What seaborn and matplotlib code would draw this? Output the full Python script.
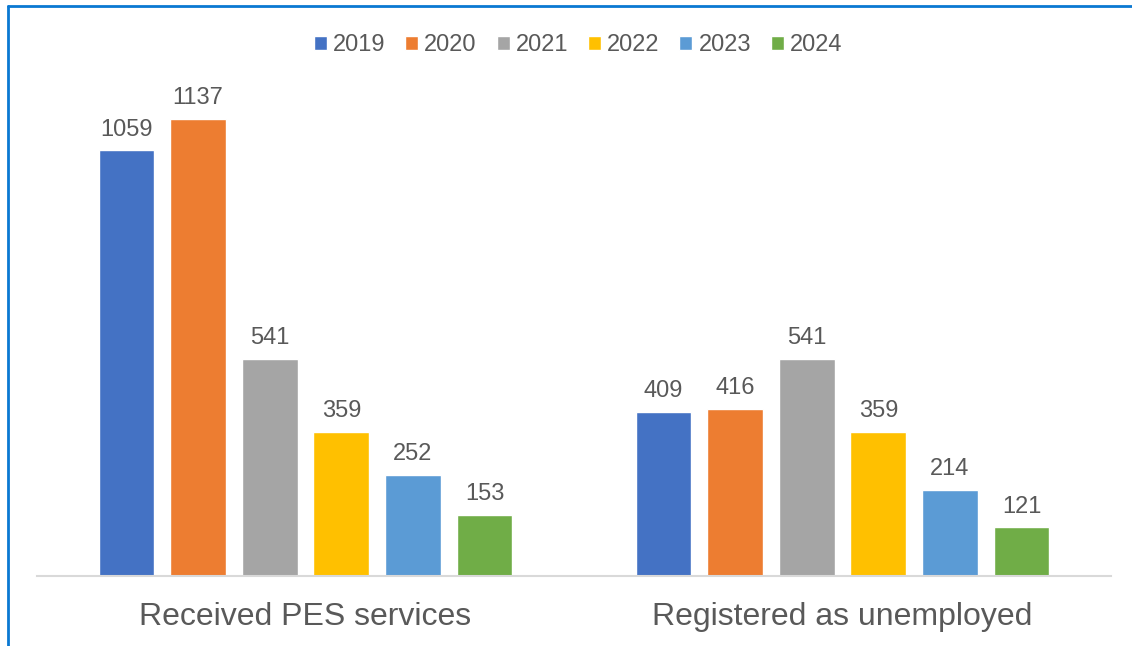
import matplotlib
matplotlib.use("Agg")
import matplotlib.pyplot as plt
import seaborn as sns
import pandas as pd
from matplotlib.lines import Line2D

categories = ["Received PES services", "Registered as unemployed"]
years = ["2019", "2020", "2021", "2022", "2023", "2024"]
received = [1059, 1137, 541, 359, 252, 153]
registered = [409, 416, 541, 359, 214, 121]
colors = ["#4472C4", "#ED7D31", "#A5A5A5", "#FFC000", "#5B9BD5", "#70AD47"]

rows = []
for cat, vals in zip(categories, [received, registered]):
    for yr, v in zip(years, vals):
        rows.append({"category": cat, "year": yr, "value": v})
df = pd.DataFrame(rows)

sns.set_theme(style="white")
plt.rcParams["font.family"] = ["Liberation Sans", "DejaVu Sans"]
text_color = "#595959"

fig = plt.figure(figsize=(11.32, 6.46), dpi=100)
ax = fig.add_axes([37 / 1132, 1 - 576 / 646, 1074 / 1132, 496 / 646])

sns.barplot(data=df, x="category", y="value", hue="year", palette=colors,
            width=0.8, gap=0.22, ax=ax, saturation=1, legend=True)

for cont in ax.containers:
    ax.bar_label(cont, padding=7, fontsize=17, color=text_color)

ax.set_ylim(0, 1234)
ax.set_xlim(-0.5, 1.5)
ax.set_xlabel("")
ax.set_ylabel("")
ax.set_yticks([])
ax.tick_params(axis="x", length=0, pad=18.5, labelsize=23, labelcolor=text_color)
for s in ["top", "right", "left"]:
    ax.spines[s].set_visible(False)
ax.spines["bottom"].set_color("#D9D9D9")
ax.spines["bottom"].set_linewidth(1.5)

handles, labels = ax.get_legend_handles_labels()
ax.legend(handles, labels, loc="center", bbox_to_anchor=(578 / 1132, 1 - 45 / 646),
          bbox_transform=fig.transFigure, ncol=6, frameon=False,
          fontsize=17, labelcolor=text_color, handlelength=0.55, handleheight=0.55,
          handletextpad=0.25, columnspacing=0.85)

# blue frame edges of the original chart box
fig.add_artist(Line2D([8 / 1132, 8 / 1132], [0, 1 - 6 / 646],
                      transform=fig.transFigure, color="#0A78D2", lw=2))
fig.add_artist(Line2D([8 / 1132, 1], [1 - 6 / 646, 1 - 6 / 646],
                      transform=fig.transFigure, color="#0A78D2", lw=2))

fig.savefig("out.png", dpi=100)
